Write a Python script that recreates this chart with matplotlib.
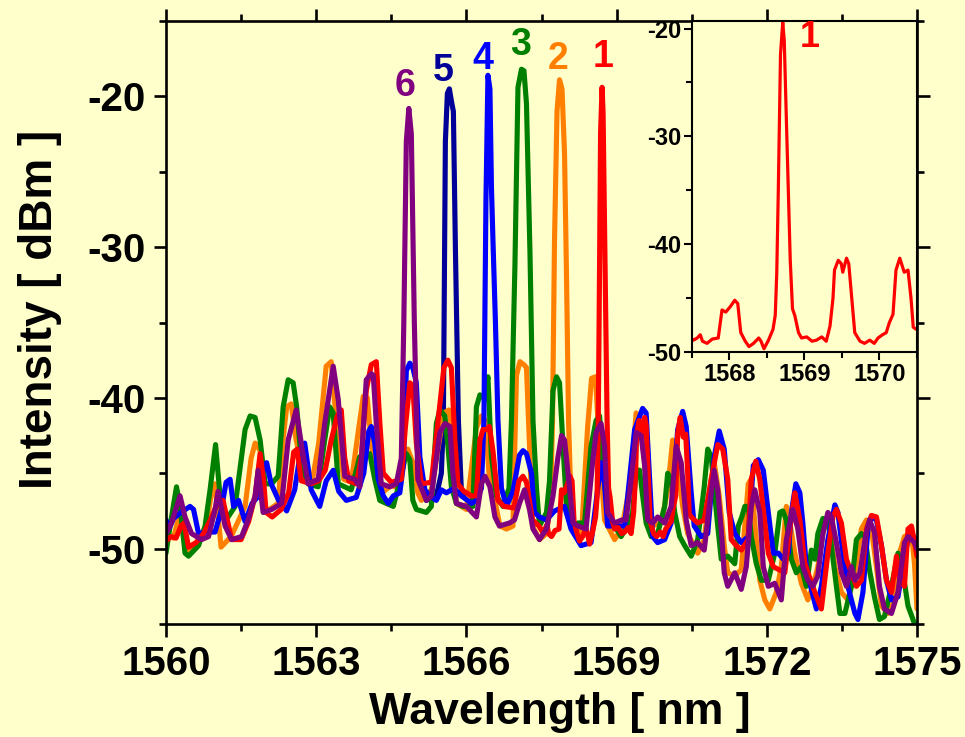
import matplotlib
matplotlib.use('Agg')
import matplotlib.pyplot as plt
from matplotlib.ticker import MultipleLocator

plt.rcParams['font.family'] = ['Liberation Sans', 'DejaVu Sans']
plt.rcParams['font.weight'] = 'bold'
plt.rcParams['axes.unicode_minus'] = False

# ---------------- data (wavelength nm, intensity dBm) ----------------
red_pts = [(1560.00,-49.5),(1560.10,-49.2),(1560.20,-49.3),(1560.30,-48.5),(1560.36,-48.3),(1560.45,-49.9),
    (1560.60,-49.6),(1560.75,-49.0),(1560.90,-48.0),(1561.00,-47.2),(1561.14,-46.8),(1561.25,-48.5),(1561.31,-49.4),
    (1561.50,-49.4),(1561.65,-48.2),(1561.78,-46.5),(1561.88,-43.7),(1561.95,-45.5),(1562.00,-47.6),(1562.12,-47.9),
    (1562.30,-47.4),(1562.45,-46.3),(1562.55,-43.6),(1562.62,-43.4),(1562.70,-45.5),(1562.90,-45.7),(1563.05,-45.5),
    (1563.18,-44.8),(1563.30,-42.8),(1563.42,-41.2),(1563.50,-40.8),(1563.57,-44.0),(1563.65,-45.5),(1563.80,-45.7),
    (1563.90,-44.0),(1564.00,-39.5),(1564.10,-37.8),(1564.20,-37.6),(1564.27,-41.6),(1564.34,-45.0),(1564.50,-45.6),
    (1564.70,-45.4),(1564.78,-42.0),(1564.87,-39.0),(1564.93,-39.2),(1565.00,-43.0),(1565.10,-45.7),(1565.30,-45.6),
    (1565.45,-41.0),(1565.55,-38.0),(1565.63,-37.5),(1565.70,-38.0),(1565.77,-42.8),(1565.83,-45.7),(1565.95,-46.2),
    (1566.10,-46.5),(1566.20,-46.5),(1566.27,-42.8),(1566.33,-42.1),(1566.40,-42.1),(1566.46,-41.9),(1566.53,-43.5),
    (1566.63,-46.8),(1566.75,-47.2),(1566.95,-47.3),(1567.05,-45.5),(1567.13,-45.2),(1567.20,-45.6),(1567.32,-48.1),
    (1567.45,-48.5),(1567.52,-48.9),(1567.57,-48.7),(1567.61,-48.4),(1567.64,-49.0),(1567.70,-49.2),(1567.77,-48.8),
    (1567.85,-48.7),(1567.90,-46.1),(1567.95,-46.3),(1568.01,-45.8),(1568.07,-45.2),(1568.11,-45.5),(1568.15,-48.2),
    (1568.21,-49.0),(1568.26,-49.5),(1568.32,-49.2),(1568.39,-48.7),(1568.42,-49.0),(1568.46,-49.7),(1568.52,-48.9),
    (1568.58,-47.9),(1568.61,-46.6),(1568.63,-42.7),(1568.65,-35.3),(1568.68,-22.4),(1568.71,-19.4),(1568.73,-21.1),
    (1568.76,-28.9),(1568.81,-41.5),(1568.84,-46.0),(1568.87,-46.6),(1568.92,-48.2),(1568.96,-48.7),(1569.03,-48.6),
    (1569.10,-49.0),(1569.16,-48.9),(1569.23,-48.6),(1569.29,-49.0),(1569.34,-47.6),(1569.38,-45.0),(1569.40,-42.4),
    (1569.45,-41.5),(1569.49,-41.8),(1569.51,-42.6),(1569.56,-41.3),(1569.59,-41.8),(1569.63,-45.0),(1569.67,-48.2),
    (1569.74,-49.0),(1569.80,-49.2),(1569.87,-48.9),(1569.93,-49.2),(1569.98,-48.7),(1570.04,-48.4),(1570.09,-48.2),
    (1570.13,-47.3),(1570.18,-46.5),(1570.22,-42.4),(1570.27,-41.3),(1570.33,-42.6),(1570.38,-42.4),(1570.42,-45.0),
    (1570.45,-47.7),(1570.49,-47.9),(1570.62,-48.3),(1570.75,-48.1),(1570.89,-45.4),(1571.02,-43.1),(1571.12,-43.4),
    (1571.22,-45.4),(1571.29,-49.4),(1571.39,-49.8),(1571.49,-50.1),(1571.63,-49.4),(1571.69,-45.4),(1571.78,-44.2),
    (1571.86,-45.4),(1571.96,-48.3),(1572.03,-50.3),(1572.13,-51.2),(1572.36,-51.6),(1572.46,-48.7),(1572.56,-46.3),
    (1572.66,-48.1),(1572.76,-51.0),(1572.96,-52.9),(1573.09,-54.0),(1573.22,-50.3),(1573.32,-47.9),(1573.39,-47.4),
    (1573.49,-48.3),(1573.59,-50.7),(1573.79,-52.5),(1573.89,-52.1),(1573.99,-48.7),(1574.09,-47.8),(1574.19,-47.9),
    (1574.29,-49.8),(1574.39,-52.1),(1574.49,-52.9),(1574.59,-50.5),(1574.65,-52.1),(1574.75,-52.5),(1574.82,-48.7),
    (1574.89,-48.5),(1575.00,-50.5)]

orange_pts = [(1560.00,-49.0),(1560.15,-49.3),(1560.31,-47.2),(1560.45,-50.3),(1560.60,-49.8),(1560.80,-48.6),
    (1560.90,-46.5),(1560.98,-45.7),(1561.10,-49.9),(1561.30,-49.2),(1561.58,-47.2),(1561.70,-44.0),(1561.78,-43.0),
    (1561.88,-43.5),(1561.98,-47.6),(1562.24,-47.0),(1562.33,-43.0),(1562.41,-40.6),(1562.50,-40.4),(1562.60,-42.8),
    (1562.78,-45.4),(1562.90,-45.9),(1563.05,-43.0),(1563.20,-37.9),(1563.30,-37.6),(1563.40,-41.5),(1563.55,-45.4),
    (1563.70,-45.6),(1563.85,-42.0),(1563.94,-39.9),(1564.02,-40.0),(1564.10,-43.0),(1564.20,-45.4),(1564.35,-46.2),
    (1564.50,-45.8),(1564.65,-46.0),(1564.75,-44.0),(1564.83,-43.4),(1564.93,-44.3),(1565.03,-46.3),(1565.10,-46.8),
    (1565.30,-46.1),(1565.45,-43.0),(1565.55,-41.0),(1565.65,-40.8),(1565.73,-42.5),(1565.80,-47.0),(1566.00,-47.4),
    (1566.20,-42.0),(1566.30,-41.2),(1566.38,-41.5),(1566.45,-45.0),(1566.55,-46.5),(1566.67,-48.5),(1566.80,-48.7),
    (1566.93,-48.5),(1567.00,-38.5),(1567.07,-37.6),(1567.15,-37.8),(1567.20,-38.0),(1567.27,-44.0),(1567.32,-48.5),
    (1567.46,-49.4),(1567.60,-49.0),(1567.68,-47.0),(1567.72,-41.5),(1567.76,-29.5),(1567.81,-21.0),(1567.86,-18.9),
    (1567.91,-19.5),(1567.96,-23.8),(1568.00,-32.0),(1568.04,-41.5),(1568.10,-48.0),(1568.20,-48.8),(1568.30,-49.0),
    (1568.42,-42.0),(1568.50,-38.7),(1568.58,-38.6),(1568.65,-43.0),(1568.76,-48.1),(1568.96,-49.4),(1569.10,-48.7),
    (1569.29,-45.4),(1569.39,-41.0),(1569.49,-41.7),(1569.59,-45.4),(1569.69,-48.5),(1569.89,-48.3),(1570.02,-46.1),
    (1570.12,-42.8),(1570.22,-44.5),(1570.32,-47.2),(1570.42,-49.0),(1570.62,-50.3),(1570.75,-49.4),(1570.89,-45.4),
    (1570.95,-44.3),(1571.05,-46.5),(1571.15,-49.8),(1571.22,-51.6),(1571.36,-51.8),(1571.49,-51.4),(1571.63,-45.7),
    (1571.69,-45.4),(1571.76,-48.3),(1571.86,-52.1),(1571.96,-53.4),(1572.06,-54.0),(1572.19,-52.9),(1572.29,-51.2),
    (1572.39,-47.2),(1572.46,-48.3),(1572.56,-50.3),(1572.69,-52.3),(1572.82,-53.4),(1572.92,-52.5),(1573.02,-51.2),
    (1573.16,-48.1),(1573.26,-48.7),(1573.36,-51.2),(1573.49,-52.9),(1573.62,-53.4),(1573.76,-51.6),(1573.89,-48.7),
    (1573.99,-48.1),(1574.09,-48.7),(1574.19,-51.2),(1574.29,-53.8),(1574.42,-54.3),(1574.55,-53.4),(1574.65,-50.3),
    (1574.75,-49.2),(1574.89,-49.0),(1574.95,-51.0),(1575.00,-54.0)]

green_pts = [(1560.00,-50.3),(1560.10,-48.1),(1560.21,-45.9),(1560.28,-47.2),(1560.38,-50.3),(1560.45,-50.5),
    (1560.65,-49.8),(1560.78,-48.5),(1560.88,-46.1),(1560.99,-43.1),(1561.05,-45.4),(1561.11,-47.6),(1561.24,-47.9),
    (1561.38,-47.2),(1561.58,-42.1),(1561.68,-41.2),(1561.78,-41.3),(1561.88,-42.8),(1561.98,-45.7),(1562.11,-45.7),
    (1562.24,-45.2),(1562.34,-40.6),(1562.44,-38.8),(1562.54,-39.0),(1562.61,-40.6),(1562.71,-44.5),(1562.84,-45.7),
    (1563.04,-45.9),(1563.17,-42.8),(1563.27,-40.6),(1563.34,-41.0),(1563.44,-45.7),(1563.70,-46.1),(1563.87,-43.9),
    (1564.07,-43.7),(1564.17,-45.4),(1564.27,-46.8),(1564.40,-47.0),(1564.54,-47.2),(1564.64,-45.9),(1564.80,-43.7),
    (1564.87,-44.1),(1564.93,-46.8),(1565.00,-47.4),(1565.20,-47.6),(1565.30,-47.2),(1565.40,-41.7),(1565.47,-40.8),
    (1565.57,-41.2),(1565.63,-43.2),(1565.70,-45.9),(1565.80,-47.0),(1565.93,-47.2),(1566.13,-47.2),(1566.20,-40.6),
    (1566.27,-39.8),(1566.37,-40.1),(1566.43,-38.6),(1566.50,-43.9),(1566.60,-46.5),(1566.73,-47.2),(1566.85,-46.0),
    (1566.90,-41.5),(1566.97,-31.1),(1567.03,-19.4),(1567.10,-18.2),(1567.15,-18.3),(1567.20,-20.5),(1567.27,-30.4),
    (1567.33,-41.5),(1567.40,-46.0),(1567.46,-48.5),(1567.60,-47.6),(1567.66,-45.5),(1567.73,-39.5),(1567.80,-38.6),
    (1567.86,-39.0),(1567.93,-43.2),(1568.00,-47.2),(1568.09,-48.5),(1568.23,-48.3),(1568.36,-48.3),(1568.49,-43.2),
    (1568.59,-41.5),(1568.66,-41.2),(1568.72,-44.3),(1568.82,-47.6),(1568.92,-48.3),(1569.09,-49.2),(1569.22,-48.5),
    (1569.32,-47.6),(1569.39,-44.8),(1569.46,-44.8),(1569.52,-46.5),(1569.59,-48.3),(1569.69,-49.2),(1569.82,-49.0),
    (1569.96,-47.2),(1570.02,-45.0),(1570.09,-45.4),(1570.16,-47.6),(1570.26,-49.2),(1570.36,-49.8),(1570.49,-50.5),
    (1570.62,-49.4),(1570.75,-45.9),(1570.82,-43.4),(1570.89,-43.9),(1570.95,-46.1),(1571.02,-48.5),(1571.09,-50.7),
    (1571.22,-50.5),(1571.36,-51.0),(1571.43,-48.5),(1571.50,-47.9),(1571.56,-47.2),(1571.63,-47.2),(1571.69,-49.2),
    (1571.79,-51.0),(1571.89,-52.1),(1572.03,-52.1),(1572.16,-50.3),(1572.26,-47.6),(1572.32,-47.5),(1572.39,-48.1),
    (1572.49,-50.7),(1572.59,-51.6),(1572.69,-51.2),(1572.79,-52.5),(1572.89,-50.1),(1572.96,-50.7),(1573.02,-49.0),
    (1573.12,-48.0),(1573.22,-48.1),(1573.29,-49.8),(1573.39,-52.5),(1573.46,-54.3),(1573.56,-54.3),(1573.69,-52.5),
    (1573.79,-49.4),(1573.89,-49.0),(1573.96,-49.2),(1574.05,-51.4),(1574.15,-53.2),(1574.25,-54.7),(1574.35,-54.5),
    (1574.49,-52.5),(1574.62,-50.3),(1574.72,-51.6),(1574.82,-53.8),(1574.92,-54.7),(1575.00,-55.5)]

blue_pts = [(1560.00,-48.1),(1560.07,-48.6),(1560.15,-48.0),(1560.30,-47.6),(1560.48,-47.2),(1560.55,-47.4),
    (1560.65,-49.0),(1560.80,-48.9),(1560.98,-48.9),(1561.10,-47.5),(1561.20,-45.6),(1561.28,-45.4),(1561.35,-47.2),
    (1561.45,-46.8),(1561.58,-48.2),(1561.72,-47.0),(1561.85,-46.5),(1561.95,-44.6),(1562.01,-44.3),(1562.10,-45.7),
    (1562.25,-46.8),(1562.41,-47.5),(1562.57,-46.1),(1562.70,-43.3),(1562.77,-43.0),(1562.90,-46.1),(1563.07,-47.2),
    (1563.20,-45.5),(1563.34,-44.8),(1563.45,-46.2),(1563.60,-46.8),(1563.80,-46.6),(1563.95,-45.0),(1564.05,-42.2),
    (1564.10,-41.9),(1564.17,-43.0),(1564.24,-45.4),(1564.34,-46.5),(1564.44,-47.0),(1564.54,-46.5),(1564.67,-46.3),
    (1564.74,-44.5),(1564.80,-38.2),(1564.87,-37.7),(1564.93,-38.0),(1565.00,-39.0),(1565.07,-43.9),(1565.17,-46.1),
    (1565.27,-46.5),(1565.40,-46.8),(1565.50,-46.1),(1565.60,-46.3),(1565.75,-46.0),(1565.90,-46.5),(1566.10,-47.0),
    (1566.20,-46.8),(1566.30,-46.0),(1566.35,-41.5),(1566.39,-27.0),(1566.43,-18.6),(1566.47,-19.5),(1566.50,-26.0),
    (1566.53,-29.5),(1566.58,-35.0),(1566.63,-41.5),(1566.70,-46.0),(1566.80,-47.2),(1566.93,-46.2),(1567.06,-43.8),
    (1567.13,-43.5),(1567.20,-43.7),(1567.30,-45.0),(1567.36,-47.6),(1567.46,-47.9),(1567.60,-48.1),(1567.76,-47.5),
    (1567.96,-47.2),(1568.09,-48.7),(1568.29,-49.8),(1568.49,-49.6),(1568.62,-46.1),(1568.69,-44.3),(1568.76,-45.7),
    (1568.82,-48.5),(1569.02,-48.5),(1569.16,-48.5),(1569.36,-42.1),(1569.52,-40.7),(1569.59,-41.0),(1569.66,-45.4),
    (1569.72,-49.2),(1569.82,-49.6),(1569.96,-49.4),(1570.09,-48.3),(1570.22,-42.1),(1570.32,-40.9),(1570.39,-41.9),
    (1570.49,-46.3),(1570.55,-48.5),(1570.69,-49.2),(1570.82,-49.0),(1570.95,-43.9),(1571.05,-42.2),(1571.15,-43.4),
    (1571.25,-47.6),(1571.36,-49.0),(1571.49,-49.6),(1571.63,-49.2),(1571.73,-44.5),(1571.83,-44.1),(1571.93,-44.8),
    (1572.03,-47.6),(1572.13,-50.3),(1572.23,-50.3),(1572.33,-50.7),(1572.43,-50.3),(1572.49,-47.6),(1572.58,-45.7),
    (1572.66,-46.3),(1572.72,-48.3),(1572.79,-51.2),(1572.89,-52.7),(1572.99,-54.0),(1573.09,-52.5),(1573.22,-49.4),
    (1573.36,-47.1),(1573.42,-47.6),(1573.52,-50.3),(1573.62,-52.5),(1573.76,-54.3),(1573.82,-54.7),(1573.92,-52.9),
    (1574.02,-48.7),(1574.09,-47.9),(1574.19,-48.1),(1574.29,-49.8),(1574.39,-52.1),(1574.49,-53.4),(1574.62,-53.2),
    (1574.75,-50.5),(1574.85,-49.0),(1575.00,-49.4)]

navy_pts = [(1565.20,-46.8),(1565.40,-46.5),(1565.50,-45.0),(1565.54,-41.5),(1565.58,-23.0),(1565.62,-19.8),
    (1565.66,-19.5),(1565.70,-20.3),(1565.74,-21.0),(1565.78,-30.0),(1565.84,-41.5),(1565.90,-46.2),(1566.10,-46.8)]

purple_pts = [(1560.00,-49.0),(1560.11,-48.3),(1560.28,-46.5),(1560.38,-47.9),(1560.51,-49.0),(1560.71,-49.4),
    (1560.85,-49.2),(1560.98,-47.4),(1561.04,-46.2),(1561.18,-48.5),(1561.31,-49.4),(1561.51,-49.2),(1561.64,-48.1),
    (1561.78,-46.5),(1561.84,-44.8),(1561.94,-47.6),(1562.11,-47.4),(1562.31,-47.0),(1562.44,-42.8),(1562.60,-40.8),
    (1562.71,-43.2),(1562.84,-45.7),(1563.04,-45.4),(1563.17,-41.7),(1563.34,-37.9),(1563.44,-40.1),(1563.57,-45.2),
    (1563.77,-45.4),(1563.87,-45.9),(1564.00,-38.8),(1564.10,-38.4),(1564.14,-38.5),(1564.20,-41.7),(1564.30,-45.7),
    (1564.47,-45.9),(1564.60,-45.7),(1564.70,-44.0),(1564.75,-35.0),(1564.80,-23.0),(1564.85,-20.8),(1564.90,-22.5),
    (1564.96,-35.0),(1565.03,-45.4),(1565.20,-46.8),(1565.30,-46.5),(1565.47,-42.3),(1565.57,-41.7),(1565.67,-41.9),
    (1565.73,-45.0),(1565.80,-47.0),(1566.00,-47.2),(1566.20,-47.9),(1566.30,-45.7),(1566.37,-45.2),(1566.47,-45.9),
    (1566.57,-47.9),(1566.66,-48.5),(1566.86,-48.3),(1566.96,-48.1),(1567.06,-47.0),(1567.16,-46.1),(1567.26,-47.4),
    (1567.33,-48.7),(1567.46,-49.4),(1567.60,-48.7),(1567.73,-46.5),(1567.83,-43.9),(1567.90,-42.5),(1567.96,-42.8),
    (1568.03,-45.0),(1568.13,-48.3),(1568.23,-48.5),(1568.39,-48.7),(1568.52,-44.3),(1568.59,-42.3),(1568.69,-41.7),
    (1568.76,-43.2),(1568.82,-47.6),(1568.96,-48.3),(1569.10,-48.1),(1569.19,-48.1),(1569.29,-45.4),(1569.39,-42.3),
    (1569.49,-42.5),(1569.56,-44.5),(1569.62,-48.1),(1569.72,-48.3),(1569.82,-47.9),(1569.96,-48.3),(1570.09,-47.2),
    (1570.19,-43.2),(1570.29,-44.3),(1570.39,-48.1),(1570.49,-49.8),(1570.62,-49.6),(1570.75,-50.1),(1570.85,-47.2),
    (1570.95,-44.8),(1571.02,-46.1),(1571.09,-48.7),(1571.15,-51.6),(1571.22,-52.5),(1571.36,-51.6),(1571.49,-52.7),
    (1571.59,-51.2),(1571.69,-47.2),(1571.76,-46.1),(1571.86,-47.6),(1571.93,-51.2),(1572.03,-52.5),(1572.16,-52.3),
    (1572.29,-53.4),(1572.39,-49.4),(1572.52,-47.4),(1572.62,-48.7),(1572.72,-51.2),(1572.82,-52.1),(1572.92,-52.5),
    (1573.02,-51.8),(1573.12,-49.0),(1573.22,-47.6),(1573.29,-47.9),(1573.39,-49.6),(1573.49,-51.6),(1573.59,-52.5),
    (1573.69,-51.2),(1573.76,-52.1),(1573.86,-51.6),(1573.96,-49.4),(1574.05,-48.1),(1574.15,-48.9),(1574.25,-52.5),
    (1574.35,-54.0),(1574.49,-54.3),(1574.62,-52.9),(1574.75,-49.6),(1574.82,-49.2),(1574.95,-49.6),(1575.00,-50.0)]

series_colors = {'navy': '#000099', 'orange': '#FF8000', 'green': '#008000',
                 'blue': '#0000FF', 'red': '#FF0000', 'purple': '#800080'}

peak_labels = ['1', '2', '3', '4', '5', '6']
peak_label_wl = [1568.72, 1567.84, 1567.09, 1566.33, 1565.53, 1564.77]
peak_label_db = [-17.4, -17.55, -16.6, -17.5, -18.3, -19.3]
peak_label_colors = ['#FF0000', '#FF8000', '#008000', '#0000FF', '#000099', '#800080']

BG = '#FFFFCC'

fig = plt.figure(figsize=(9.65, 7.37), dpi=100, facecolor=BG)
W, H = 965, 737
ax = fig.add_axes([166 / W, 1 - 624 / H, (917 - 166) / W, (624 - 21) / H])
ax.set_facecolor(BG)

order = [('navy', navy_pts), ('orange', orange_pts), ('green', green_pts),
         ('blue', blue_pts), ('red', red_pts), ('purple', purple_pts)]
for name, pts in order:
    wl = [p[0] for p in pts]
    db = [p[1] for p in pts]
    ax.plot(wl, db, color=series_colors[name], lw=3.7,
            solid_joinstyle='round', solid_capstyle='round')

for lab, xw, yd, c in zip(peak_labels, peak_label_wl, peak_label_db, peak_label_colors):
    ax.text(xw, yd, lab, color=c, fontsize=27, fontweight='bold',
            ha='center', va='center')

ax.set_xlim(1560, 1575)
ax.set_ylim(-55, -15)
ax.xaxis.set_major_locator(MultipleLocator(3))
ax.xaxis.set_minor_locator(MultipleLocator(1.5))
ax.yaxis.set_major_locator(MultipleLocator(10))
ax.yaxis.set_minor_locator(MultipleLocator(5))
ax.tick_params(which='both', direction='out', top=True, right=True, width=1.9,
               labelsize=29, pad=6)
ax.tick_params(which='major', length=9)
ax.tick_params(which='minor', length=5)
for s in ax.spines.values():
    s.set_linewidth(1.9)

ax.set_xlabel('Wavelength [ nm ]', fontsize=32, fontweight='bold')
ax.xaxis.set_label_coords(0.525, -0.146)
ax.xaxis.label.set_va('center')
ax.set_ylabel('Intensity [ dBm ]', fontsize=33, fontweight='bold')
ax.yaxis.set_label_coords(-0.168, 0.521)
ax.yaxis.label.set_va('center')
ax.yaxis.label.set_ha('center')

# ---------------- inset ----------------
axin = fig.add_axes([692 / W, 1 - 352 / H, (917 - 692) / W, (352 - 21) / H])
axin.set_facecolor(BG)
axin.plot([p[0] for p in red_pts], [p[1] for p in red_pts], color='#FF0000', lw=2.3,
          solid_joinstyle='round')
axin.text(1569.07, -20.8, '1', color='#FF0000', fontsize=26, fontweight='bold',
          ha='center', va='center')
axin.set_xlim(1567.5, 1570.5)
axin.set_ylim(-50, -19.3)
axin.xaxis.set_major_locator(MultipleLocator(1))
axin.xaxis.set_minor_locator(MultipleLocator(0.5))
axin.yaxis.set_major_locator(MultipleLocator(10))
axin.yaxis.set_minor_locator(MultipleLocator(5))
axin.tick_params(which='both', direction='out', width=1.5, labelsize=17, pad=2)
axin.tick_params(which='major', length=6)
axin.tick_params(which='minor', length=4)
for s in axin.spines.values():
    s.set_linewidth(1.5)

fig.savefig('out.png', dpi=100, facecolor=BG)
